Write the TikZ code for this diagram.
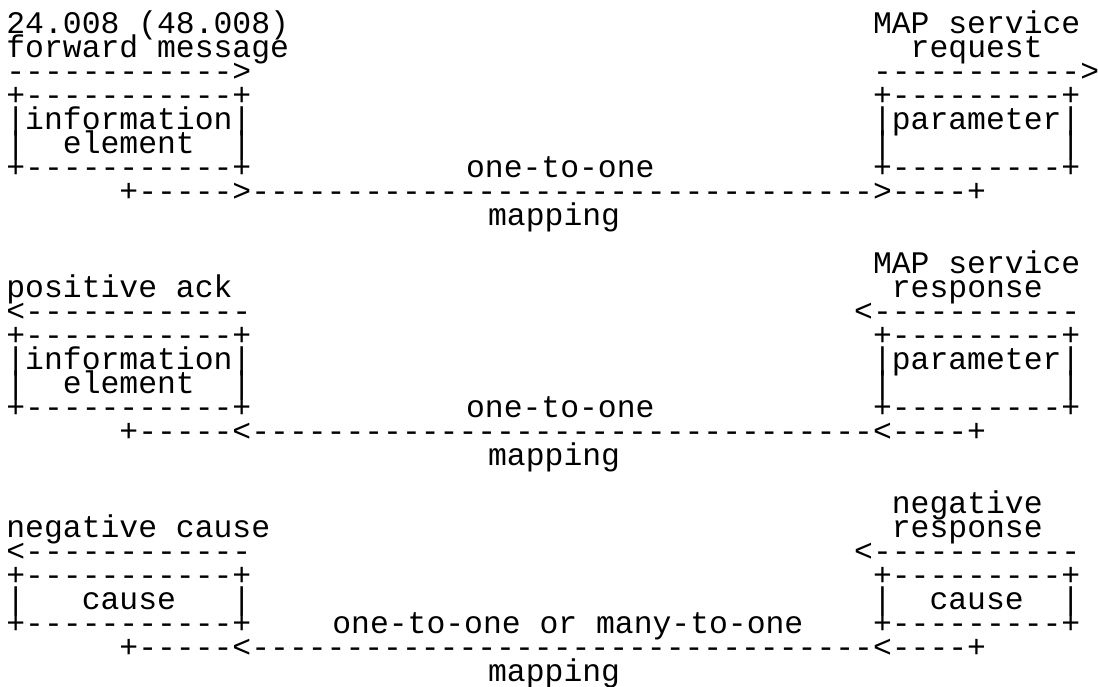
\documentclass[tikz,border=0pt]{standalone}
\usepackage{fontspec}
\setmonofont{Liberation Mono}
\usepackage{tikz}

\tikzset{ascii/.style={inner sep=0pt, anchor=base west,
                       font=\ttfamily\fontsize{15.7pt}{12pt}\selectfont}}

\newcommand{\dashes}[1]{\foreach \i in {1,...,#1}{-}}% one dash per cell, no ligatures
\newcommand{\txt}[4]{% name, column, row, text
    \node[ascii] (#1) at ({6+#2*18.84},{33+(#3-1)*24}) {#4};%
}

\begin{document}
\begin{tikzpicture}[x=0.5pt, y=-0.5pt]
    \useasboundingbox (0,0) rectangle (1098,686);

    % forward message / MAP service request
    \txt{fwd}{0}{1}{24.008 (48.008)}
    \txt{fwdb}{0}{2}{forward message}
    \txt{req}{46}{1}{MAP service}
    \txt{reqb}{48}{2}{request}
    \txt{fwdarr}{0}{3}{\dashes{12}>}
    \txt{reqarr}{46}{3}{\dashes{11}>}

    % positive ack / MAP service response
    \txt{resp}{46}{11}{MAP service}
    \txt{respb}{47}{12}{response}
    \txt{ack}{0}{12}{positive ack}
    \txt{ackarr}{0}{13}{<\dashes{12}}
    \txt{resparr}{45}{13}{<\dashes{11}}

    % the two boxes and the mapping line, same for both blocks
    \foreach \top/\tip in {4/>,14/<}{
      \txt{ie\top}{0}{\top}{+\dashes{11}+}
      \txt{iea\top}{0}{\top+1}{|information|}
      \txt{iel\top}{0}{\top+2}{|}
      \txt{ieb\top}{3}{\top+2}{element}
      \txt{ier\top}{12}{\top+2}{|}
      \txt{iec\top}{0}{\top+3}{+\dashes{11}+}
      \txt{par\top}{46}{\top}{+\dashes{9}+}
      \txt{para\top}{46}{\top+1}{|parameter|}
      \txt{parl\top}{46}{\top+2}{|}
      \txt{parr\top}{56}{\top+2}{|}
      \txt{parc\top}{46}{\top+3}{+\dashes{9}+}
      \txt{one\top}{24.4}{\top+3}{one-to-one}
      \txt{map\top}{6}{\top+4}{+\dashes{5}\tip\dashes{33}\tip\dashes{4}+}
      \txt{mapl\top}{25.57}{\top+5}{mapping}
    }

    % negative cause / negative response
    \txt{neg}{47}{21}{negative}
    \txt{negb}{47}{22}{response}
    \txt{cau}{0}{22}{negative cause}
    \txt{cauarr}{0}{23}{<\dashes{12}}
    \txt{negarr}{45}{23}{<\dashes{11}}
    \txt{cbox}{0}{24}{+\dashes{11}+}
    \txt{cboxl}{0}{25}{|}
    \txt{cboxt}{4}{25}{cause}
    \txt{cboxr}{12}{25}{|}
    \txt{cboxb}{0}{26}{+\dashes{11}+}
    \txt{nbox}{46}{24}{+\dashes{9}+}
    \txt{nboxl}{46}{25}{|}
    \txt{nboxt}{49}{25}{cause}
    \txt{nboxr}{56}{25}{|}
    \txt{nboxb}{46}{26}{+\dashes{9}+}
    \txt{many}{17.3}{26}{one-to-one or many-to-one}
    \txt{nmap}{6}{27}{+\dashes{5}<\dashes{33}<\dashes{4}+}
    \txt{nmapl}{25.57}{28}{mapping}
\end{tikzpicture}
\end{document}
